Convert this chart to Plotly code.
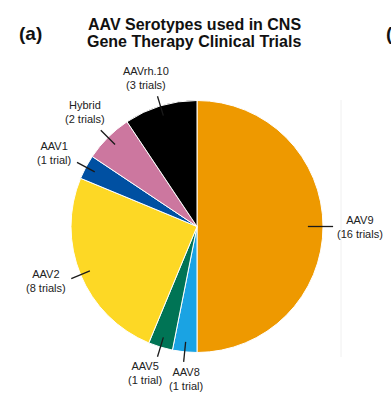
import math
import plotly.graph_objects as go

# ---- data ----
serotypes = ["AAV9", "AAV8", "AAV5", "AAV2", "AAV1", "Hybrid", "AAVrh.10"]
trials = [16, 1, 1, 8, 1, 2, 3]
colors = ["#EE9900", "#1AA3E3", "#007455", "#FDD825", "#0050A2", "#CC779F", "#000000"]
title_lines = ["AAV Serotypes used in CNS", "Gene Therapy Clinical Trials"]

# ---- layout geometry (pixels) ----
W, H = 391, 403
CX, CY, R = 197.0, 226.5, 126.0
FONT = "Liberation Sans, Arial, sans-serif"

def px(x):
    return x / W

def py(y):
    return 1 - y / H

fig = go.Figure(go.Pie(
    labels=serotypes,
    values=trials,
    marker=dict(colors=colors, line=dict(color="white", width=1)),
    sort=False,
    direction="clockwise",
    rotation=0,
    textinfo="none",
    hoverinfo="label+value",
    showlegend=False,
    domain=dict(x=[px(CX - R), px(CX + R)], y=[py(CY + R), py(CY - R)]),
))

# label placement style: (xanchor, yanchor, xshift, yshift)
label_style = {
    "AAV9": ("left", "middle", 2, 0),
    "AAV8": ("center", "middle", 2, -17),
    "AAV5": ("center", "middle", -12, -16),
    "AAV2": ("right", "middle", -3, -2),
    "AAV1": ("right", "middle", -4, 9),
    "Hybrid": ("right", "middle", 6, 18),
    "AAVrh.10": ("center", "middle", -11, 18),
}

total = sum(trials)
cum = 0
shapes = []
annotations = []
for name, v in zip(serotypes, trials):
    mid = (cum + v / 2) / total * 2 * math.pi
    cum += v
    s, c = math.sin(mid), math.cos(mid)
    r_in = R * (0.88 if name == "AAV9" else 0.92)
    r_out = R * 1.08
    x0, y0 = CX + r_in * s, CY - r_in * c
    x1, y1 = CX + r_out * s, CY - r_out * c
    shapes.append(dict(type="line", xref="paper", yref="paper",
                       x0=px(x0), y0=py(y0), x1=px(x1), y1=py(y1),
                       line=dict(color="#1a1a1a", width=1.3)))
    xa, ya, xs, ys = label_style[name]
    word = "trial" if v == 1 else "trials"
    annotations.append(dict(
        text=f"{name}<br>({v} {word})", xref="paper", yref="paper",
        x=px(x1), y=py(y1), xanchor=xa, yanchor=ya, xshift=xs, yshift=ys,
        showarrow=False, align="center",
        font=dict(family=FONT, size=11, color="#222222"),
    ))

# faint panel divider
shapes.append(dict(type="line", xref="paper", yref="paper",
                   x0=px(341), x1=px(341), y0=py(100), y1=py(357),
                   line=dict(color="#f0f0f0", width=1)))

for line_text, ypix in zip(title_lines, [24, 42]):
    annotations.append(dict(
        text=f"<b>{line_text}</b>",
        xref="paper", yref="paper", x=px(194), y=py(ypix), xanchor="center", yanchor="middle",
        showarrow=False, align="center",
        font=dict(family=FONT, size=16, color="#111111"),
    ))
annotations.append(dict(
    text="<b>(a)</b>", xref="paper", yref="paper", x=px(17), y=py(33.5),
    xanchor="left", yanchor="middle", showarrow=False,
    font=dict(family=FONT, size=19, color="#111111"),
))
# edge of the neighbouring panel label, only its opening bracket is visible
annotations.append(dict(
    text="<b>(</b>", xref="paper", yref="paper", x=px(384), y=py(33.5),
    xanchor="left", yanchor="middle", showarrow=False,
    font=dict(family=FONT, size=19, color="#111111"),
))

fig.update_layout(
    width=W, height=H,
    margin=dict(l=0, r=0, t=0, b=0),
    paper_bgcolor="white", plot_bgcolor="white",
    shapes=shapes, annotations=annotations,
)

fig.write_html(
    "out.html",
    config={"displayModeBar": False},
    post_script="document.body.style.margin='0';document.body.style.overflow='hidden';",
)
